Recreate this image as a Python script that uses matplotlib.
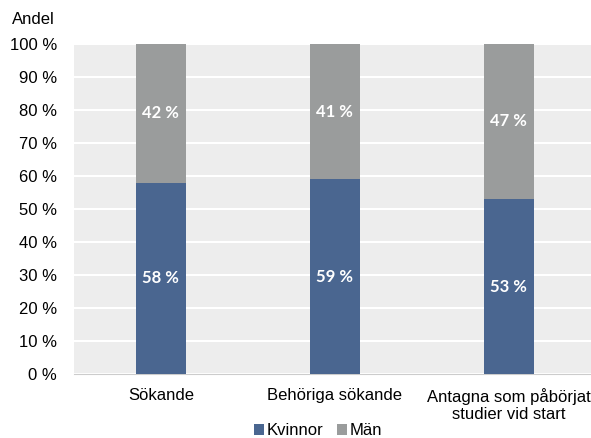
import matplotlib
matplotlib.use("Agg")
import matplotlib.pyplot as plt
import numpy as np

categories = ["Sökande", "Behöriga sökande", "Antagna som påbörjat\nstudier vid start"]
kvinnor = [58, 59, 53]
man = [42, 41, 47]
yticks = list(range(0, 101, 10))

plt.rcParams['font.family'] = ['Liberation Sans', 'DejaVu Sans']

fig = plt.figure(figsize=(5.91, 4.38), dpi=100)
ax = fig.add_axes([0.125, 0.146, 0.883, 0.754])
ax.set_facecolor('#ededed')
x = np.arange(len(categories))
w = 0.29
c_k = '#4a6690'
c_m = '#9a9c9c'
ax.bar(x, kvinnor, w, color=c_k, label='Kvinnor', zorder=3)
ax.bar(x, man, w, bottom=kvinnor, color=c_m, label='Män', zorder=3)
for i in range(len(categories)):
    ax.text(x[i], kvinnor[i] / 2, f"{kvinnor[i]} %", ha='center', va='center', color='white',
            fontsize=12, fontweight='bold', family=['Lato', 'DejaVu Sans'], zorder=4)
    ax.text(x[i], kvinnor[i] + man[i] / 2, f"{man[i]} %", ha='center', va='center', color='white',
            fontsize=12, fontweight='bold', family=['Lato', 'DejaVu Sans'], zorder=4)

ax.set_xlim(-0.5, 2.5)
ax.set_ylim(0, 100)
ax.set_yticks(yticks)
ax.set_yticklabels([f"{v} %" for v in yticks], fontsize=12)
ax.set_xticks(x)
ax.set_xticklabels(categories, fontsize=12)
ax.tick_params(length=0)
ax.tick_params(axis='y', pad=12)
ax.tick_params(axis='x', pad=10)
ax.grid(axis='y', color='white', linewidth=1.5, zorder=1)
for s in ['top', 'right', 'left']:
    ax.spines[s].set_visible(False)
ax.spines['bottom'].set_color('#cccccc')
fig.text(12 / 591, 1 - 20 / 438, "Andel", fontsize=12, ha='left', va='center')
fig.legend(loc='center', bbox_to_anchor=(0.538, 0.016), ncol=2, frameon=False, fontsize=12,
           handlelength=0.6, handleheight=0.6, handletextpad=0.15, columnspacing=0.8,
           borderpad=0, borderaxespad=0)
fig.savefig('out.png', dpi=100)
